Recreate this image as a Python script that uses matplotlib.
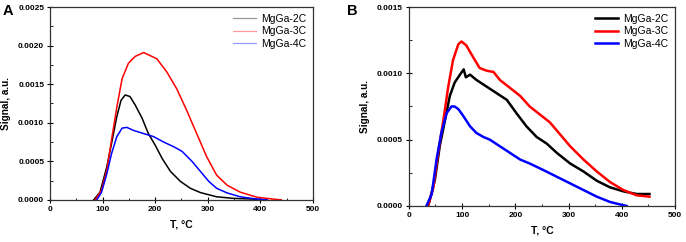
import numpy as np
import matplotlib.pyplot as plt
from matplotlib.ticker import MultipleLocator, FormatStrFormatter

plt.rcParams['font.family'] = ['Liberation Sans', 'DejaVu Sans']

# panel A: (T, signal)
a2_T = [83, 95, 108, 117, 127, 135, 143, 152, 162, 175, 187, 200, 213, 229, 248, 267, 286, 317, 349, 387, 413]
a2_S = [0, 0.0001, 0.00043, 0.00073, 0.00108, 0.00129, 0.00136, 0.00134, 0.00123, 0.00106, 0.00086, 0.00071,
        0.00054, 0.00037, 0.00024, 0.00015, 0.000095, 0.00004, 0.00002, 0.00001, 0]
a3_T = [86, 98, 108, 117, 127, 137, 149, 162, 178, 203, 222, 241, 260, 279, 298, 317, 337, 362, 394, 425, 440]
a3_S = [0, 0.00013, 0.00039, 0.00078, 0.0012, 0.00157, 0.00177, 0.00186, 0.00191, 0.00183, 0.00166, 0.00144,
        0.00116, 0.00086, 0.00056, 0.00032, 0.00019, 0.0001, 0.000034, 0.00001, 0]
a4_T = [89, 98, 108, 117, 127, 137, 146, 159, 178, 197, 216, 235, 251, 270, 286, 302, 317, 337, 362, 394, 413]
a4_S = [0, 0.0001, 0.00034, 0.0006, 0.00082, 0.00093, 0.00094, 0.0009, 0.00086, 0.00082, 0.00075, 0.00069,
        0.00063, 0.0005, 0.00037, 0.00024, 0.00015, 0.00009, 0.00004, 0.00001, 0]

# panel B
b2_T = [36, 39, 49, 58, 68, 77, 86, 96, 103, 107, 115, 127, 146, 165, 184, 202, 221, 240, 259, 278, 303, 328,
        353, 378, 403, 428, 452]
b2_S = [0, 0.00004, 0.0002, 0.00045, 0.00065, 0.00083, 0.00093, 0.00099, 0.00103, 0.00097, 0.00099, 0.00095,
        0.0009, 0.00085, 0.0008, 0.0007, 0.0006, 0.00052, 0.00047, 0.0004, 0.00032, 0.00026, 0.00019, 0.00014,
        0.00011, 0.00009, 0.00009]
b3_T = [36, 46, 55, 65, 74, 83, 93, 99, 108, 121, 133, 146, 159, 171, 190, 209, 227, 246, 265, 284, 303, 328,
        353, 378, 403, 428, 452]
b3_S = [0, 0.00014, 0.0004, 0.00065, 0.0009, 0.0011, 0.00122, 0.00124, 0.00121, 0.00112, 0.00104, 0.00102,
        0.00101, 0.00095, 0.00089, 0.00083, 0.00075, 0.00069, 0.00063, 0.00054, 0.00045, 0.00035, 0.00026,
        0.00018, 0.00012, 0.00008, 0.00007]
b4_T = [33, 43, 52, 61, 71, 80, 86, 93, 102, 115, 127, 140, 152, 171, 190, 209, 227, 253, 278, 303, 328, 353,
        378, 403, 409]
b4_S = [0, 0.00009, 0.00035, 0.00055, 0.0007, 0.00075, 0.00075, 0.00073, 0.00068, 0.0006, 0.00055, 0.00052,
        0.0005, 0.00045, 0.0004, 0.00035, 0.00032, 0.00027, 0.00022, 0.00017, 0.00012, 0.00007, 0.00003,
        0.000005, 0]

labels = ['MgGa-2C', 'MgGa-3C', 'MgGa-4C']
colors = ['black', 'red', 'blue']

fig = plt.figure(figsize=(6.86, 2.42), dpi=100)
axA = fig.add_axes([0.073, 0.174, 0.383, 0.797])
axB = fig.add_axes([0.596, 0.149, 0.388, 0.822])


def style(ax, ymax, ystep, yminor):
    ax.set_xlim(0, 500)
    ax.set_ylim(0, ymax)
    ax.xaxis.set_major_locator(MultipleLocator(100))
    ax.xaxis.set_minor_locator(MultipleLocator(50))
    ax.yaxis.set_major_locator(MultipleLocator(ystep))
    ax.yaxis.set_minor_locator(MultipleLocator(yminor))
    ax.yaxis.set_major_formatter(FormatStrFormatter('%.4f'))
    ax.tick_params(which='major', direction='inout', length=4.5, width=0.8, labelsize=6, pad=2)
    ax.tick_params(which='minor', direction='in', length=1.8, width=0.6)
    for lab in ax.get_xticklabels() + ax.get_yticklabels():
        lab.set_fontweight('bold')
    for s in ax.spines.values():
        s.set_linewidth(0.9)
        s.set_color('#333333')
    ax.set_xlabel('T, °C', fontsize=7.5, fontweight='bold', labelpad=5)
    ax.set_ylabel('Signal, a.u.', fontsize=7.2, fontweight='bold', labelpad=5)


legend_kw = dict(loc='upper right', frameon=False, fontsize=7.5, handlelength=2.2,
                 borderaxespad=0.25, labelspacing=0.25, handletextpad=0.5)

for T, S, lab, c in zip([a2_T, a3_T, a4_T], [a2_S, a3_S, a4_S], labels, colors):
    axA.plot(T, S, color=c, lw=1.1, label=lab)
style(axA, 0.0025, 0.0005, 0.00025)
legA = axA.legend(**legend_kw)
for h in legA.get_lines():
    h.set_alpha(0.4)
    h.set_linewidth(0.9)

for T, S, lab, c in zip([b2_T, b3_T, b4_T], [b2_S, b3_S, b4_S], labels, colors):
    axB.plot(T, S, color=c, lw=1.8, label=lab)
style(axB, 0.0015, 0.0005, 0.00025)
axB.legend(**legend_kw)

fig.text(0.004, 0.985, 'A', fontsize=10.5, fontweight='bold', va='top', ha='left')
fig.text(0.506, 0.985, 'B', fontsize=10.5, fontweight='bold', va='top', ha='left')

fig.savefig('out.png', dpi=100)
